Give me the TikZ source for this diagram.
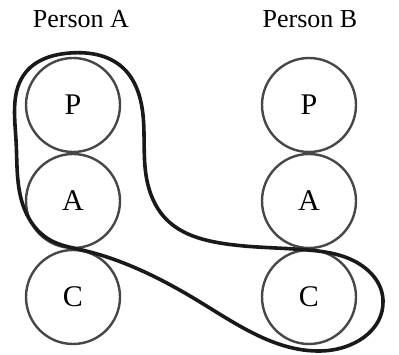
\documentclass[tikz,border=0pt]{standalone}
\usepackage{fontspec}
\setmainfont{Liberation Serif}
\usetikzlibrary{hobby}
\begin{document}
\begin{tikzpicture}[x=1pt,y=-1pt,
  role/.style={circle,draw=black!72,line width=2.4pt,inner sep=0pt,minimum size=94pt,font=\fontsize{30}{30}\selectfont},
  heading/.style={font=\fontsize{26}{26}\selectfont,anchor=base},
  band/.style={draw=black!90,line width=3.6pt,line join=round}]
\useasboundingbox (0,0) rectangle (399,355);
\node[heading] (ha) at (81,28) {Person A};
\node[heading] (hb) at (310,28) {Person B};
\node[role] (pa) at (73,105) {P};
\node[role] (aa) at (73,201) {A};
\node[role] (ca) at (73,297) {C};
\node[role] (pb) at (309,105) {P};
\node[role] (ab) at (309,201) {A};
\node[role] (cb) at (309,297) {C};
\draw[band,use Hobby shortcut,closed=true]
  (82,250) .. (200,302) .. (320,351) .. (383,300) .. (345,257) .. (308,250)
  .. (220,243) .. (166,219) .. (146,175) .. (143,115) .. (122,67) .. (70,53)
  .. (26,72) .. (16,140) .. (24,208) .. (50,240);
\end{tikzpicture}
\end{document}
